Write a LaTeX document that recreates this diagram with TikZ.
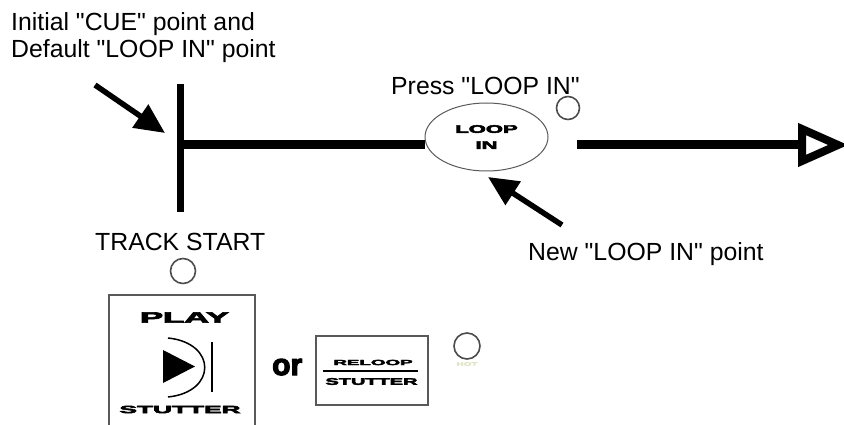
\documentclass[tikz,border=0pt]{standalone}
\usepackage{fontspec}
\setmainfont{Liberation Sans}
\newfontfamily\btnfont{Liberation Sans}[UprightFont={* Bold},UprightFeatures={FakeBold=4}]
\usetikzlibrary{shapes.geometric,arrows.meta}

\newcommand{\btntext}[3]{\scalebox{#2}[1]{\fontsize{#1}{#1}\btnfont #3}}
\newcommand{\qt}{\textquotedbl}

\begin{document}
\begin{tikzpicture}
            [x=1pt,y=-1pt,
                track/.style={line width=9pt,black},
                tick/.style={line width=7pt,black},
                pointer/.style={line width=5.5pt,black,-{Triangle[length=30pt,width=27pt]}},
                lamp/.style={circle,draw=gray!60!black,line width=1.6pt,minimum size=25pt,inner sep=0pt},
                button/.style={draw=gray!70!black,line width=1.5pt,inner sep=0pt},
                caption/.style={font=\fontsize{24.8}{27}\selectfont,inner sep=0pt}]
            \useasboundingbox (0,0) rectangle (844,425);

            %draw the captions
            \node[caption,anchor=north west,align=left] (cuetext) at (11,12) {Initial \qt CUE\qt{} point and\\Default \qt LOOP IN\qt{} point};
            \node[caption,anchor=base west] (presstext) at (391,95) {Press \qt LOOP IN\qt};
            \node[caption,anchor=base west] (starttext) at (95,250) {TRACK START};
            \node[caption,anchor=base west] (newtext) at (528,260) {New \qt LOOP IN\qt{} point};

            %draw the track with the cue point and the loop in button
            \coordinate (cue) at (180,145);
            \draw[tick] (180,84) -- (180,212);
            \node[ellipse,draw=gray!70!black,line width=1pt,minimum width=123pt,minimum height=68pt,inner sep=0pt,align=center,
                font=\fontsize{11}{16}\selectfont] (loopin) at (486.5,137) {\btntext{11}{2}{LOOP}\\\btntext{11}{2}{IN}};
            \coordinate (trackend) at (802,145);
            \draw[track] (cue) -- (cue -| loopin.west);
            \draw[track] ([xshift=28pt]loopin.east |- cue) -- (trackend);
            \draw[line width=8pt,fill=white,line join=miter] (trackend) ++(0,-16) -- ++(36,16) -- ++(-36,16) -- cycle;
            \node[lamp,minimum size=23pt] (looplamp) at (568,108) {};

            %draw the pointers
            \coordinate (cuetail) at (95,85);
            \coordinate (cuetip) at (165,133);
            \draw[pointer] (cuetail) -- (cuetip);
            \coordinate (newtail) at (562,225);
            \coordinate (newtip) at (488,177);
            \draw[pointer] (newtail) -- (newtip);

            %draw the play button
            \node[lamp] (startlamp) at (183,271) {};
            \node[button,minimum width=146pt,minimum height=136pt] (playbtn) at (182,363) {};
            \node[inner sep=0pt] (playtext) at (184.5,317.5) {\btntext{15}{2.3}{PLAY}};
            \node[inner sep=0pt] (playstut) at (180,409.5) {\btntext{10.5}{2.5}{STUTTER}};
            \fill (163,350) -- (163,383) -- (195,366.5) -- cycle;
            \draw[line width=1.5pt] (168,338) .. controls (217,343) and (217,392) .. (168,397);
            \draw[line width=1.5pt] (212,342) -- (212,392);

            %draw the reloop button
            \node[inner sep=0pt,font=\fontsize{30}{30}\btnfont,anchor=base west] (ortext) at (272,375) {or};
            \node[button,minimum width=112pt,minimum height=69pt] (reloopbtn) at (372,370.5) {};
            \node[inner sep=0pt] (relooptext) at (373,362.5) {\btntext{7.5}{2.5}{RELOOP}};
            \draw[line width=1.2pt] (323,371) -- (418,371);
            \node[inner sep=0pt] (reloopstut) at (371.5,381.5) {\btntext{9.5}{2.1}{STUTTER}};
            \node[lamp,minimum size=26pt] (hotlamp) at (467,346) {};
            \node[inner sep=0pt,text={rgb,255:red,222;green,228;blue,196}] (hottext) at (467,364) {\btntext{5}{2}{HOT}};
        \end{tikzpicture}
\end{document}
